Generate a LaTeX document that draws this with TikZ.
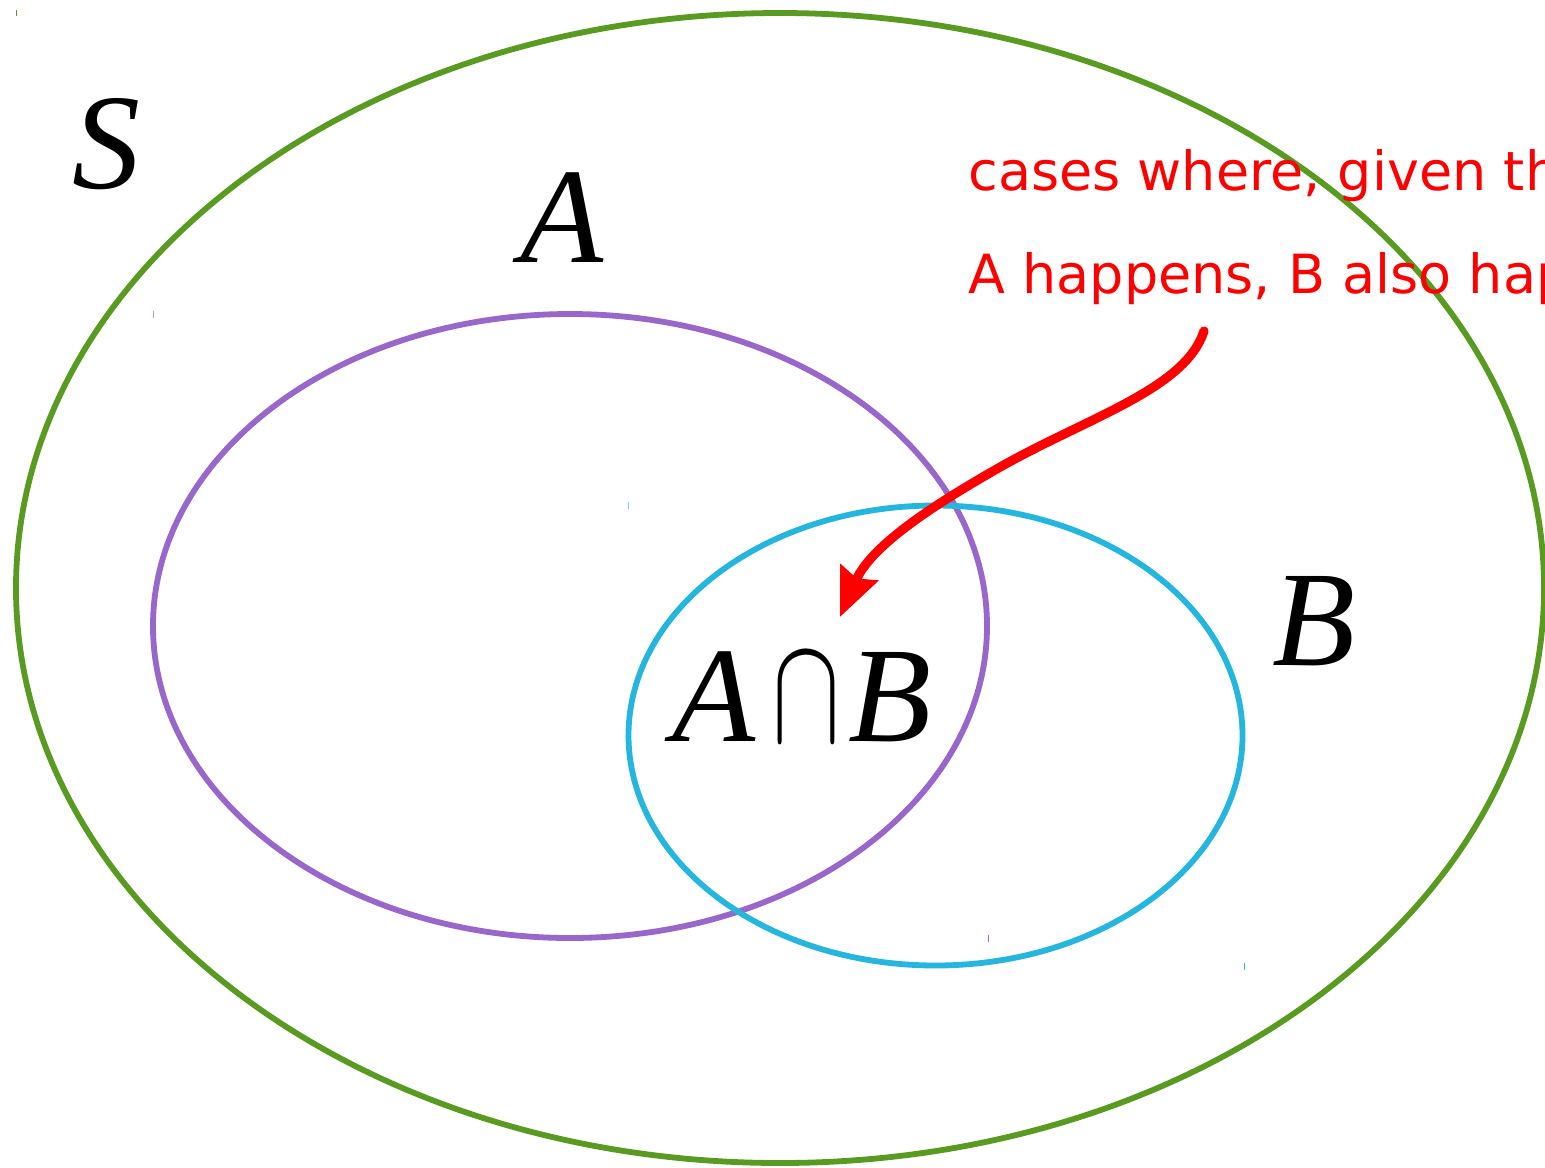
\documentclass[tikz,border=0pt]{standalone}
\usepackage{fontspec}
\setmainfont{Liberation Serif}
\newfontfamily\notefont{DejaVu Sans}
\usetikzlibrary{arrows.meta}
\definecolor{sgreen}{RGB}{88,155,32}
\definecolor{apurple}{RGB}{153,102,204}
\definecolor{bblue}{RGB}{36,182,222}
\tikzset{
  setline/.style={line width=2.9pt},
  biglabel/.style={anchor=base, inner sep=0pt, font=\fontsize{68}{68}\selectfont\itshape},
  note/.style={anchor=base west, inner sep=0pt, text=red, font=\notefont\fontsize{27}{27}\selectfont},
  tick/.style={line width=0.5pt},
  pointer/.style={red, line width=4.6pt, line cap=round, -{Stealth[length=24pt,width=20pt,inset=3pt]}}
}
\begin{document}
\begin{tikzpicture}[x=0.5pt,y=-0.5pt]
\useasboundingbox (0,0) rectangle (1545,1167);
\clip (0,0) rectangle (1545,1167);
% sets
\draw[setline, sgreen] (780,588) ellipse [x radius=382pt, y radius=287.5pt];
\draw[setline, apurple] (570,626) ellipse [x radius=208.5pt, y radius=156pt];
\draw[setline, bblue] (935.5,735.5) ellipse [x radius=153.5pt, y radius=115pt];
% small ticks
\draw[tick, sgreen] (16,10) -- (16,16);
\draw[tick, apurple!70] (153,311) -- (153,318);
\draw[tick, bblue!60] (628,502) -- (628,509);
\draw[tick, apurple] (988,935) -- (988,942);
\draw[tick, bblue] (1244,963) -- (1244,970);
% labels
\node[biglabel] (lS) at (106,188) {S};
\node[biglabel] (lA) at (562,262) {A};
\node[biglabel] (lB) at (1314,665) {B};
\node[biglabel] (lAB) at (802,741) {A\hspace{8pt}\raisebox{0pt}{\resizebox{34pt}{43pt}{$\cap$}}\hspace{4pt}B};
% note
\node[note] (n1) at (968,190) {cases where, given that};
\node[note] (n2) at (968,293) {A happens, B also happens};
% arrow
\coordinate (as) at (1204,331);
\coordinate (ae) at (840,617);
\draw[pointer] (as) .. controls (1185,390) and (1085,418) .. (995,470)
  .. controls (925,510) and (870,548) .. (ae);
\end{tikzpicture}
\end{document}
